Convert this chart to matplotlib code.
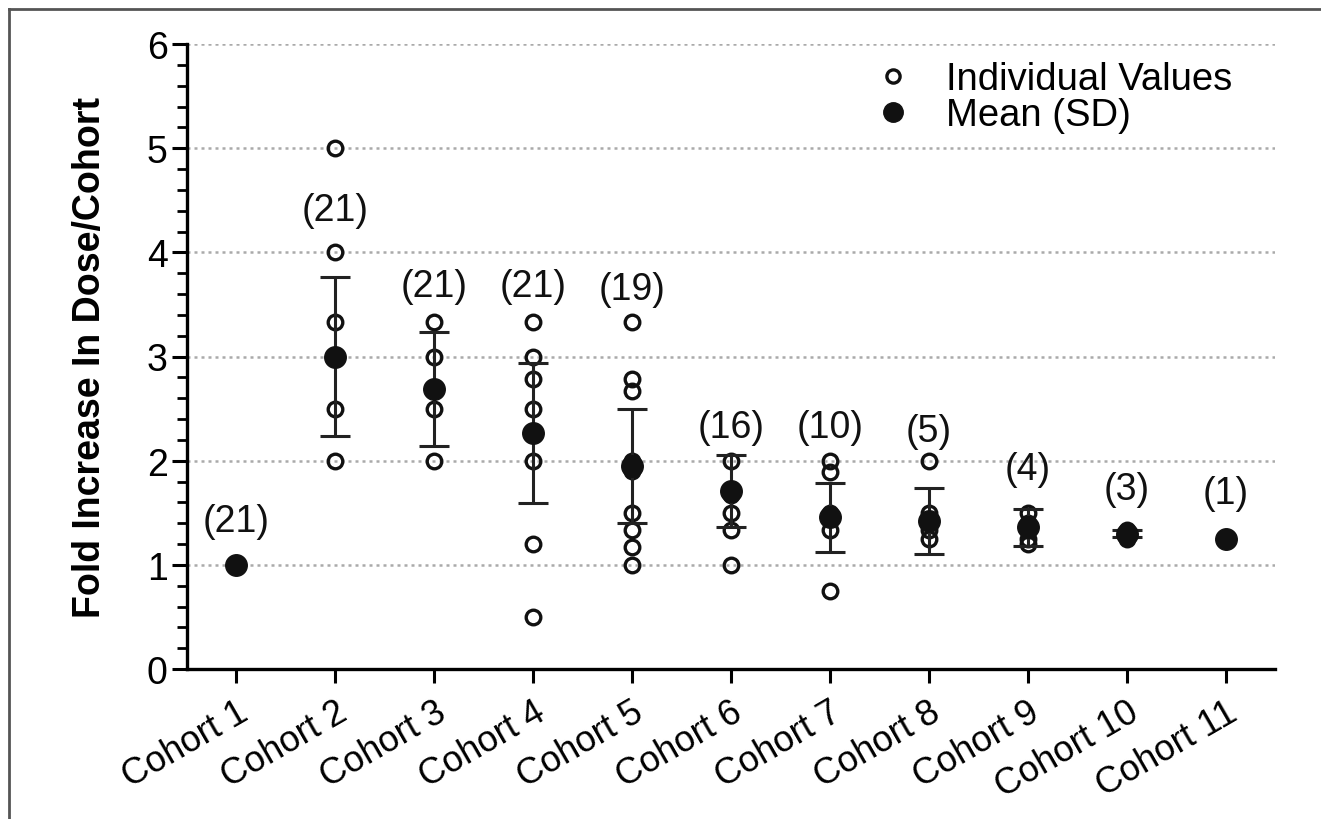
import matplotlib
matplotlib.use("Agg")
import matplotlib.pyplot as plt
from matplotlib.lines import Line2D
from matplotlib.ticker import MultipleLocator

plt.rcParams['font.family'] = ['Liberation Sans', 'DejaVu Sans']

# данные
cohorts = ["Cohort 1", "Cohort 2", "Cohort 3", "Cohort 4", "Cohort 5", "Cohort 6",
           "Cohort 7", "Cohort 8", "Cohort 9", "Cohort 10", "Cohort 11"]
n_per_cohort = [21, 21, 21, 21, 19, 16, 10, 5, 4, 3, 1]
means = [1.0, 3.0, 2.69, 2.265, 1.95, 1.705, 1.455, 1.42, 1.36, 1.30, 1.25]
sds = [0.0, 0.765, 0.55, 0.675, 0.55, 0.345, 0.335, 0.32, 0.18, 0.03, 0.0]
individual = [
    [1.0],
    [5.0, 4.0, 3.33, 2.5, 2.0],
    [3.33, 3.0, 2.5, 2.0],
    [3.33, 3.0, 2.78, 2.5, 2.0, 1.2, 0.5],
    [3.33, 2.78, 2.67, 2.0, 1.9, 1.5, 1.33, 1.17, 1.0],
    [2.0, 1.67, 1.5, 1.33, 1.0],
    [2.0, 1.89, 1.5, 1.33, 0.75],
    [2.0, 1.5, 1.33, 1.25],
    [1.5, 1.4, 1.33, 1.25, 1.2],
    [1.33, 1.29, 1.25],
    [1.25],
]

# высота подписей (n) над когортами
label_y = [1.42, 4.41, 3.68, 3.68, 3.65, 2.32, 2.32, 2.28, 1.92, 1.73, 1.69]

fig = plt.figure(figsize=(13.21, 8.2), dpi=100)
ax = fig.add_axes([187 / 1321, 1 - 670 / 820, (1275 - 187) / 1321, (670 - 45) / 820])

x = list(range(1, len(cohorts) + 1))

# индивидуальные значения
for xi, vals in zip(x, individual):
    ax.plot([xi] * len(vals), vals, linestyle='none', marker='o', markersize=10.5,
            markerfacecolor='none', markeredgecolor='#111111', markeredgewidth=2.4,
            zorder=3)

# среднее и SD (без усов, где SD = 0)
xe = [xi for xi, s in zip(x, sds) if s > 0]
me = [m for m, s in zip(means, sds) if s > 0]
se = [s for s in sds if s > 0]
ax.errorbar(xe, me, yerr=se, fmt='none', ecolor='#222222', elinewidth=2.2,
            capsize=11, capthick=2.2, zorder=4)
ax.plot(x, means, linestyle='none', marker='o', markersize=15.5,
        color='#111111', zorder=5)

for xi, n, ly in zip(x, n_per_cohort, label_y):
    ax.text(xi, ly, f"({n})", ha='center', va='center', fontsize=27, color='#111111')

ax.set_xlim(0.5, 11.5)
ax.set_ylim(0, 6)
ax.set_xticks(x)
ax.set_xticklabels(cohorts, rotation=30, ha='right', rotation_mode='anchor',
                   fontsize=26)
ax.yaxis.set_major_locator(MultipleLocator(1))
ax.yaxis.set_minor_locator(MultipleLocator(0.2))
ax.tick_params(axis='y', which='major', labelsize=27, length=11, width=2.2, pad=3)
ax.tick_params(axis='y', which='minor', length=7, width=2.0)
ax.tick_params(axis='x', which='major', length=10, width=2.2, pad=8)

for yv in range(1, 7):
    ax.axhline(yv, color='#aaaaaa', linestyle=(0, (1.2, 1.6)), linewidth=1.8, zorder=1)

ax.spines['top'].set_visible(False)
ax.spines['right'].set_visible(False)
ax.spines['left'].set_linewidth(2.4)
ax.spines['bottom'].set_linewidth(2.4)

ax.set_ylabel("Fold Increase In Dose/Cohort", fontsize=27, fontweight='bold')
ax.yaxis.set_label_coords(-0.073, 0.5)

handles = [
    Line2D([], [], linestyle='none', marker='o', markersize=9.5, markerfacecolor='none',
           markeredgecolor='#111111', markeredgewidth=2.4),
    Line2D([], [], linestyle='none', marker='o', markersize=14, color='#111111'),
]
ax.legend(handles, ["Individual Values", "Mean (SD)"], loc='upper right',
          bbox_to_anchor=(0.975, 0.997), frameon=False, fontsize=27.5,
          handletextpad=0.8, handlelength=1.2, labelspacing=0.0, borderaxespad=0)

# рамка рисунка слева и сверху
fig.add_artist(Line2D([8.5 / 1321, 8.5 / 1321], [0, 1 - 10 / 820], color='#555555',
                      linewidth=2, transform=fig.transFigure))
fig.add_artist(Line2D([8.5 / 1321, 1], [1 - 10 / 820, 1 - 10 / 820], color='#555555',
                      linewidth=2, transform=fig.transFigure))

fig.savefig("out.png", dpi=100)
